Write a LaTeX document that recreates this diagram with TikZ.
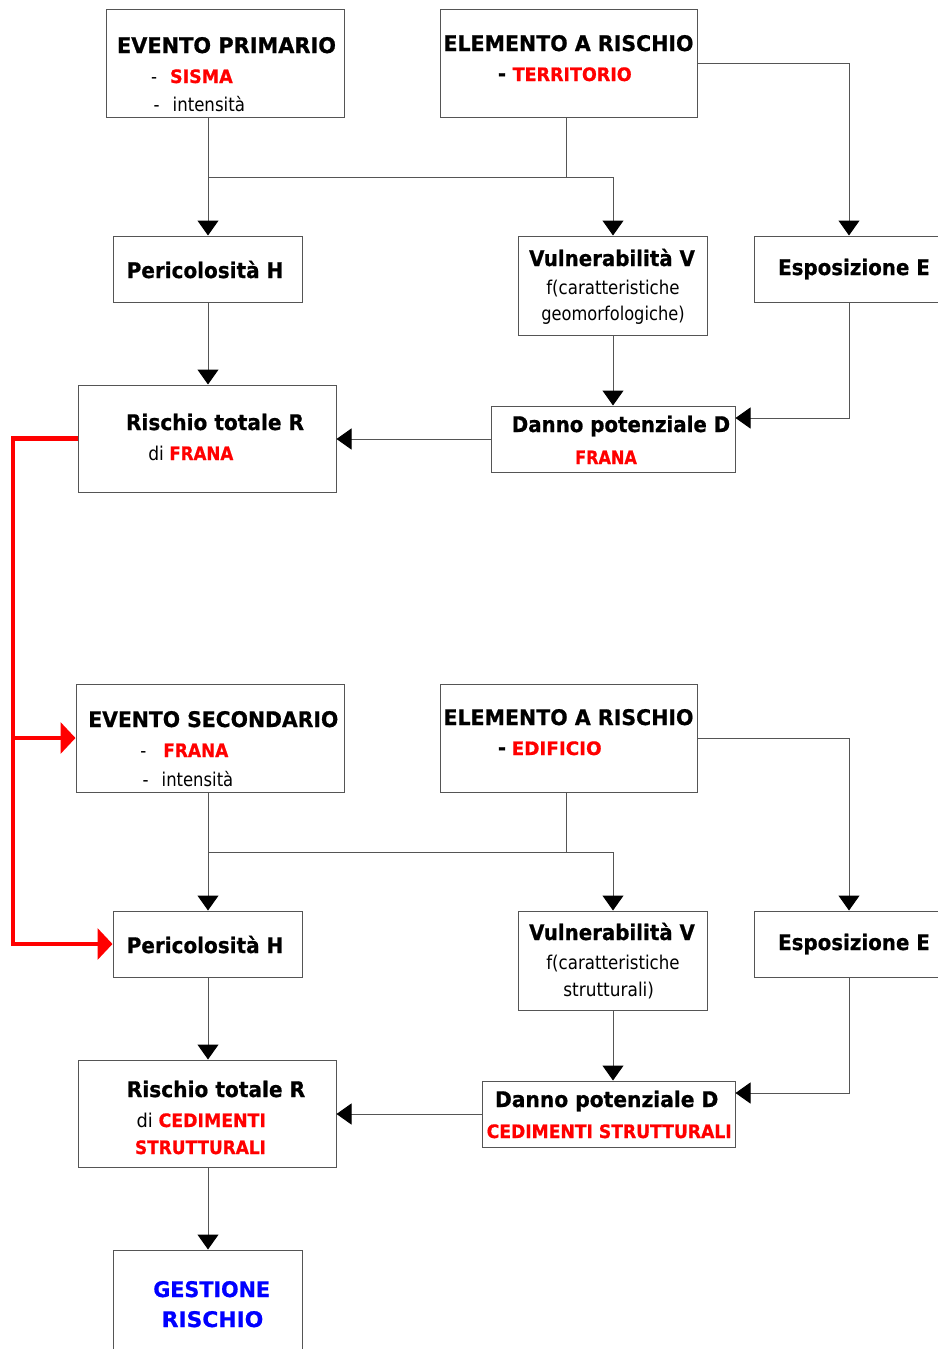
\documentclass[tikz,border=0pt]{standalone}
\usepackage{fontspec}
\setmainfont{DejaVu Sans}[BoldFeatures={FakeBold=0.8}]
\usepackage{graphicx}
\usetikzlibrary{arrows.meta}
\definecolor{rred}{RGB}{255,0,0}
\definecolor{bblue}{RGB}{0,0,255}
\definecolor{bord}{RGB}{85,85,85}
\newcommand\Hfont{\fontsize{21.5}{21.5}\selectfont\bfseries}
\newcommand\Rfont{\fontsize{18.5}{18.5}\selectfont\bfseries\color{rred}}
\newcommand\Bfont{\fontsize{21.5}{21.5}\selectfont\bfseries\color{bblue}}
\newcommand\Nfont{\fontsize{19}{19}\selectfont}
% name, center x, baseline y, ink width, content
\newcommand\tline[5]{\node[anchor=base,inner sep=0pt] (#1) at (#2,#3) {\resizebox{#4pt}{\height}{#5}};}
% name, x1, y1, x2, y2
\newcommand\mkbox[5]{\pgfmathsetmacro\bw{#4-#2}\pgfmathsetmacro\bh{#5-#3}%
  \node[box,minimum width=\bw pt,minimum height=\bh pt] (#1) at ({(#2+#4)/2},{(#3+#5)/2}) {};}
\tikzset{
  box/.style={draw=bord,line width=1pt,fill=white,inner sep=0pt},
  conn/.style={draw=bord,line width=1pt},
  arr/.style={conn,-{Triangle[width=21pt,length=15pt,color=black]}},
  rarr/.style={draw=rred,line width=4.5pt,-{Triangle[width=31pt,length=15pt]}},
}
\begin{document}
\begin{tikzpicture}[x=1pt,y=-1pt]
\useasboundingbox (0,0) rectangle (937,1349);
\fill[white] (0,0) rectangle (937,1349);
% boxes
\mkbox{ep}{106}{9}{344}{117}
\mkbox{er1}{440}{9}{697}{117}
\mkbox{ph1}{113}{236}{302}{302}
\mkbox{vu1}{518}{236}{707}{335}
\mkbox{ex1}{754}{236}{944}{302}
\mkbox{rr1}{78}{385}{336}{492}
\mkbox{da1}{491}{406}{735}{472}
\mkbox{es}{76}{684}{344}{792}
\mkbox{er2}{440}{684}{697}{792}
\mkbox{ph2}{113}{911}{302}{977}
\mkbox{vu2}{518}{911}{707}{1010}
\mkbox{ex2}{754}{911}{944}{977}
\mkbox{rr2}{78}{1060}{336}{1167}
\mkbox{da2}{482}{1081}{735}{1147}
\mkbox{ge}{113}{1250}{302}{1360}
% coordinates
\coordinate (j1) at (208,177);
\coordinate (j2) at (566,177);
\coordinate (j3) at (613,177);
\coordinate (k1) at (849,418);
\coordinate (j4) at (208,852);
\coordinate (j5) at (566,852);
\coordinate (j6) at (613,852);
\coordinate (k2) at (849,1093);
\coordinate (rA) at (13,438.5);
\coordinate (rB) at (13,738);
\coordinate (rC) at (13,944);
% upper connectors
\draw[conn] (ep.south -| j1) -- (j1) -- (j3);
\draw[conn] (er1.south -| j2) -- (j2);
\draw[arr] (j1) -- (ph1.north -| j1);
\draw[arr] (j3) -- (vu1.north -| j3);
\draw[arr] (er1.east) -| (ex1.north -| k1);
\draw[arr] (ph1.south -| j1) -- (rr1.north -| j1);
\draw[arr] (vu1.south -| j3) -- (da1.north -| j3);
\draw[arr] (ex1.south -| k1) -- (k1) -- (da1.east |- k1);
\draw[arr] (da1.west) -- (rr1.east |- da1.west);
% lower connectors
\draw[conn] (es.south -| j4) -- (j4) -- (j6);
\draw[conn] (er2.south -| j5) -- (j5);
\draw[arr] (j4) -- (ph2.north -| j4);
\draw[arr] (j6) -- (vu2.north -| j6);
\draw[arr] (er2.east) -| (ex2.north -| k2);
\draw[arr] (ph2.south -| j4) -- (rr2.north -| j4);
\draw[arr] (vu2.south -| j6) -- (da2.north -| j6);
\draw[arr] (ex2.south -| k2) -- (k2) -- (da2.east |- k2);
\draw[arr] (da2.west) -- (rr2.east |- da2.west);
\draw[arr] (rr2.south -| j4) -- (ge.north -| j4);
% red feedback
\draw[rarr] (rr1.west) -- (rA) -- (rC) -- (ph2.west);
\draw[rarr] (rB) -- (es.west |- rB);
% texts upper
\tline{t1}{226.5}{53}{219}{\Hfont EVENTO PRIMARIO}
\tline{d1}{154}{83}{6}{\Nfont -}
\tline{t2}{201.4}{83}{62.7}{\Rfont SISMA}
\tline{d2}{156.5}{111}{6}{\Nfont -}
\tline{t3}{208.8}{111}{72.3}{\Nfont intensità}
\tline{t4}{568.5}{51}{250}{\Hfont ELEMENTO A RISCHIO}
\tline{d3}{502}{81}{8}{\Hfont -}
\tline{t5}{572.2}{81}{119}{\Rfont TERRITORIO}
\tline{t6}{205}{278}{156.6}{\Hfont Pericolosità H}
\tline{t7}{612}{266}{165.7}{\Hfont Vulnerabilità V}
\tline{t8}{613}{294}{133.3}{\Nfont f(caratteristiche}
\tline{t9}{613}{320}{143.3}{\Nfont geomorfologiche)}
\tline{t10}{854}{275}{151.7}{\Hfont Esposizione E}
\tline{t11}{215}{430}{178}{\Hfont Rischio totale R}
\tline{t12}{190.8}{460}{85}{\Nfont di \Rfont FRANA}
\tline{t13}{621}{432}{218.3}{\Hfont Danno potenziale D}
\tline{t14}{606}{464}{61.7}{\Rfont FRANA}
% texts lower
\tline{t15}{213.3}{727}{250}{\Hfont EVENTO SECONDARIO}
\tline{d4}{143.3}{757}{6}{\Nfont -}
\tline{t16}{195.8}{757}{65}{\Rfont FRANA}
\tline{d5}{145.5}{786}{6}{\Nfont -}
\tline{t17}{197.5}{786}{71.6}{\Nfont intensità}
\tline{t18}{568.5}{725}{250}{\Hfont ELEMENTO A RISCHIO}
\tline{d6}{502}{755}{8}{\Hfont -}
\tline{t19}{556.7}{755}{90}{\Rfont EDIFICIO}
\tline{t20}{205}{953}{156.6}{\Hfont Pericolosità H}
\tline{t21}{612}{940}{165.7}{\Hfont Vulnerabilità V}
\tline{t22}{613}{969}{133.3}{\Nfont f(caratteristiche}
\tline{t23}{608.7}{996}{90.7}{\Nfont strutturali)}
\tline{t24}{854}{950}{151.7}{\Hfont Esposizione E}
\tline{t25}{216}{1097}{178.3}{\Hfont Rischio totale R}
\tline{t26}{201.3}{1127}{129.3}{\Nfont di \Rfont CEDIMENTI}
\tline{t27}{200.5}{1154}{131}{\Rfont STRUTTURALI}
\tline{t28}{606.7}{1107}{223.3}{\Hfont Danno potenziale D}
\tline{t29}{609.2}{1138}{245}{\Rfont CEDIMENTI STRUTTURALI}
\tline{t30}{211.7}{1297}{116.7}{\Bfont GESTIONE}
\tline{t31}{212.5}{1327}{101.6}{\Bfont RISCHIO}
\end{tikzpicture}
\end{document}
